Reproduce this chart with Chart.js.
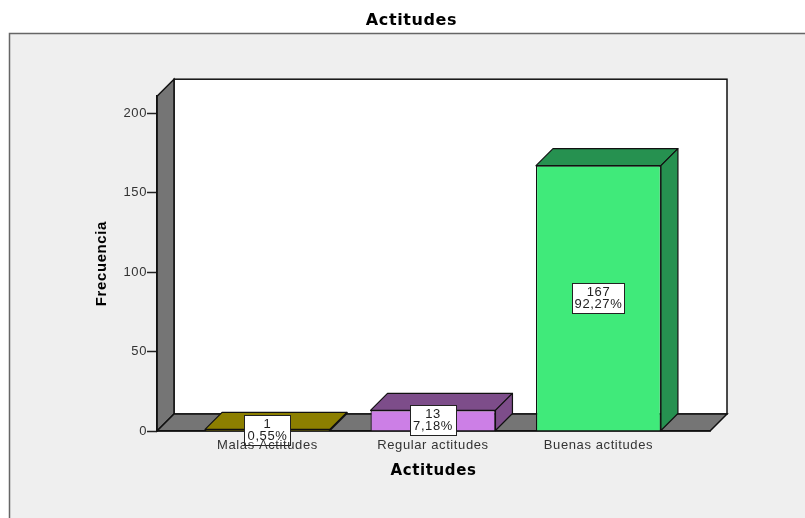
<!DOCTYPE html>
<html><head><meta charset="utf-8">
<style>html,body{margin:0;padding:0;background:#fff}canvas{display:block}</style>
<script src="https://cdn.jsdelivr.net/npm/chart.js@4"></script>
</head><body><canvas id="c" width="805" height="518"></canvas>
<script>
const categories = ['Malas Actitudes', 'Regular actitudes', 'Buenas actitudes'];
const counts = [1, 13, 167];
const percents = ['0,55%', '7,18%', '92,27%'];
const frontColors = ['#d6c400', '#cc7fe6', '#40ea7a'];
const topColors = ['#8c7f00', '#7d4d8a', '#269150'];
const depth = 17;

const scene = {
  id: 'scene',
  beforeDraw(chart) {
    const ctx = chart.ctx, a = chart.chartArea;
    ctx.letterSpacing = '0.6px';
    ctx.save();
    ctx.fillStyle = '#fff'; ctx.fillRect(0, 0, 805, 518);
    ctx.fillStyle = '#efefef'; ctx.strokeStyle = '#666'; ctx.lineWidth = 1.5;
    ctx.fillRect(9, 33, 796, 485);
    ctx.beginPath(); ctx.moveTo(9.5, 518); ctx.lineTo(9.5, 33.5); ctx.lineTo(805, 33.5); ctx.stroke();
    ctx.strokeStyle = '#111'; ctx.lineWidth = 1.5;
    ctx.fillStyle = '#fff';
    ctx.fillRect(a.left + depth, a.top - depth, a.right - a.left, a.bottom - a.top);
    ctx.strokeRect(a.left + depth, a.top - depth, a.right - a.left, a.bottom - a.top);
    ctx.fillStyle = '#757575';
    const poly = pts => { ctx.beginPath(); pts.forEach((p, i) => i ? ctx.lineTo(p[0], p[1]) : ctx.moveTo(p[0], p[1])); ctx.closePath(); ctx.fill(); ctx.stroke(); };
    poly([[a.left, a.bottom], [a.left, a.top], [a.left + depth, a.top - depth], [a.left + depth, a.bottom - depth]]);
    poly([[a.left, a.bottom], [a.right, a.bottom], [a.right + depth, a.bottom - depth], [a.left + depth, a.bottom - depth]]);
    ctx.restore();
  },
  beforeDatasetsDraw(chart) {
    const ctx = chart.ctx;
    ctx.save(); ctx.strokeStyle = '#111'; ctx.lineWidth = 1.2; ctx.lineJoin = 'round';
    chart.getDatasetMeta(0).data.forEach((b, i) => {
      const l = b.x - b.width / 2, r = b.x + b.width / 2, t = b.y, bo = b.base;
      ctx.fillStyle = topColors[i];
      ctx.beginPath(); ctx.moveTo(l, t); ctx.lineTo(l + depth, t - depth); ctx.lineTo(r + depth, t - depth); ctx.lineTo(r, t); ctx.closePath(); ctx.fill(); ctx.stroke();
      ctx.beginPath(); ctx.moveTo(r, t); ctx.lineTo(r + depth, t - depth); ctx.lineTo(r + depth, bo - depth); ctx.lineTo(r, bo); ctx.closePath(); ctx.fill(); ctx.stroke();
    });
    ctx.restore();
  },
  afterDatasetsDraw(chart) {
    const ctx = chart.ctx;
    ctx.save();
    ctx.font = '13px "Liberation Sans"'; ctx.textAlign = 'center'; ctx.textBaseline = 'middle';
    chart.getDatasetMeta(0).data.forEach((b, i) => {
      const cy = (b.y + b.base) / 2, line1 = String(counts[i]), line2 = percents[i];
      const w = i === 2 ? 52 : 46, h = 30;
      ctx.fillStyle = '#fff'; ctx.strokeStyle = '#222'; ctx.lineWidth = 1;
      ctx.fillRect(Math.round(b.x - w / 2) + .5, Math.round(cy - h / 2) + .5, w, h);
      ctx.strokeRect(Math.round(b.x - w / 2) + .5, Math.round(cy - h / 2) + .5, w, h);
      ctx.fillStyle = '#222';
      ctx.fillText(line1, b.x, cy - 6);
      ctx.fillText(line2, b.x, cy + 6);
    });
    ctx.restore();
  }
};

new Chart(document.getElementById('c'), {
  type: 'bar',
  data: { datasets: [{
    data: counts.map((v, i) => ({ x: i, y: v })),
    backgroundColor: frontColors, borderColor: '#111', borderWidth: 1.2,
    categoryPercentage: 1, barPercentage: 0.755
  }] },
  plugins: [scene],
  options: {
    responsive: false, animation: false,
    layout: { padding: { left: 18, right: 0, top: 0, bottom: 0 } },
    plugins: {
      legend: { display: false }, tooltip: { enabled: false },
      title: { display: true, text: 'Actitudes', color: '#000',
        font: { family: '"DejaVu Sans"', size: 16, weight: 'bold' },
        padding: { top: 11, bottom: 66 } }
    },
    scales: {
      x: {
        type: 'linear', min: -0.6677, max: 2.674, offset: false,
        afterBuildTicks(s) { s.ticks = categories.map((c, i) => ({ value: i })); },
        afterFit(s) { s.height = 87; },
        grid: { display: false, drawTicks: false, offset: false },
        border: { display: true, color: '#111', width: 1.5 },
        ticks: { z: 1, autoSkip: false, maxRotation: 0, padding: 7, color: '#333',
          font: { family: '"Liberation Sans"', size: 13 },
          callback: v => categories[v] },
        title: { display: true, text: 'Actitudes', color: '#000',
          font: { family: '"DejaVu Sans"', size: 15, weight: 'bold' },
          padding: { top: 0, bottom: 38 } }
      },
      y: {
        min: 0, max: 210.7,
        afterFit(s) { s.width = 139; },
        grid: { drawOnChartArea: false, drawTicks: true, tickLength: 10, color: '#222', tickWidth: 1.5 },
        border: { display: true, color: '#111', width: 1.5 },
        ticks: { stepSize: 50, includeBounds: false, padding: 0, color: '#333',
          font: { family: '"Liberation Sans"', size: 13 } },
        title: { display: true, text: 'Frecuencia', color: '#000',
          font: { family: '"Liberation Sans"', size: 15, weight: 'bold' },
          padding: { top: 75, bottom: 0 } }
      },
      rightGap: {
        position: 'right', display: true,
        afterFit(s) { s.width = 95; },
        grid: { display: false, drawTicks: false },
        border: { display: false },
        ticks: { display: false },
        title: { display: false }
      }
    }
  }
});
</script></body></html>
